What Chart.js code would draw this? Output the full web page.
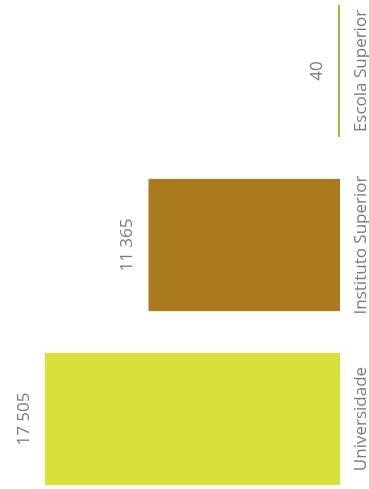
<!DOCTYPE html>
<html>
<head>
<meta charset="utf-8">
<script src="https://cdn.jsdelivr.net/npm/chart.js@4"></script>
<style>
    html, body { margin: 0; padding: 0; background: #fff; overflow: hidden; }
    #wrap {
        position: absolute; left: 0; top: 0;
        width: 489px; height: 369px;
        transform-origin: top left;
        transform: translate(0, 489px) rotate(-90deg);
    }
</style>
</head>
<body>
<div id="wrap"><canvas id="chart" width="489" height="369"></canvas></div>
<script>
// categories and values
const categories = ['Universidade', 'Instituto Superior', 'Escola Superior'];
const students = [17505, 11365, 40];
const barColors = ['#d8e03c', '#a97b1c', '#a3ba3a'];

const textColor = '#7c7c7c';
const fontFamily = "'Open Sans', 'Segoe UI', sans-serif";

// write numbers with a space as thousands separator, like "17 505"
function fmt(n) {
    return String(n).replace(/\B(?=(\d{3})+(?!\d))/g, ' ');
}

const valueLabels = {
    id: 'valueLabels',
    afterDatasetsDraw(chart) {
        const ctx = chart.ctx;
        const meta = chart.getDatasetMeta(0);
        ctx.save();
        ctx.font = '17px ' + fontFamily;
        ctx.fillStyle = textColor;
        ctx.textAlign = 'center';
        ctx.textBaseline = 'alphabetic';
        meta.data.forEach((bar, i) => {
            ctx.fillText(fmt(students[i]), bar.x, bar.y - 16);
        });
        ctx.restore();
    }
};

const ctx = document.getElementById('chart').getContext('2d');
const chart = new Chart(ctx, {
    type: 'bar',
    data: {
        labels: categories,
        datasets: [{
            data: students,
            backgroundColor: barColors,
            borderWidth: 0,
            minBarLength: 2,
            categoryPercentage: 0.76,
            barPercentage: 1,
            clip: false
        }]
    },
    options: {
        responsive: false,
        animation: false,
        layout: {
            padding: { left: 70, right: 71, top: 45, bottom: 0 }
        },
        plugins: {
            legend: { display: false },
            tooltip: { enabled: false }
        },
        scales: {
            x: {
                offset: false,
                grid: { display: false },
                border: { display: false },
                afterFit(scale) {
                    scale.height = 29;
                },
                ticks: {
                    color: textColor,
                    padding: 3,
                    maxRotation: 0,
                    autoSkip: false,
                    font: { family: fontFamily, size: 17 }
                }
            },
            y: {
                display: false,
                min: 0,
                max: 17505
            }
        }
    },
    plugins: [valueLabels]
});
</script>
</body>
</html>
